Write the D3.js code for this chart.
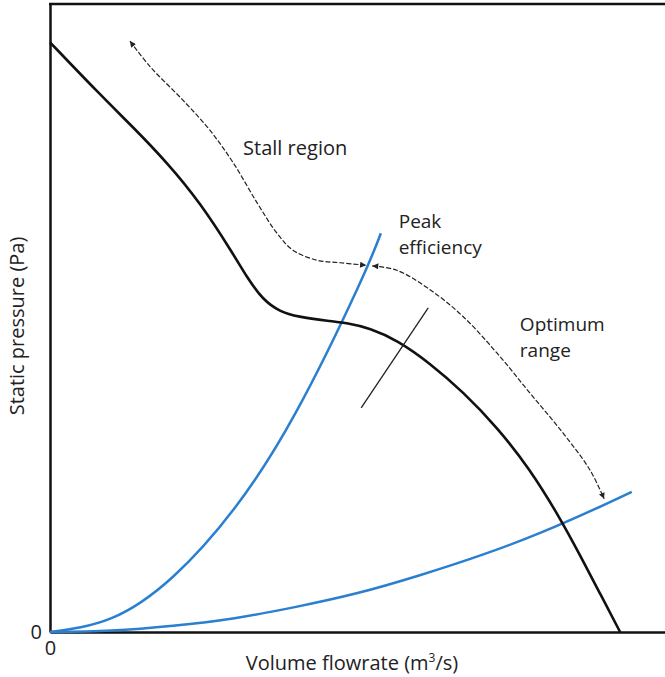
<!DOCTYPE html>
<html><head><meta charset="utf-8">
<script src="https://cdn.jsdelivr.net/npm/d3@7"></script>
<style>body{margin:0;background:#fff}text{font-family:"Open Sans",sans-serif;fill:#222}</style>
</head><body><svg id="c" width="665" height="677"></svg>
<script>
// Fan curve (Q, P) in arbitrary units
const fanQ = [0, 0.81, 1.35, 1.90, 2.44, 2.98, 3.20, 3.46, 3.74, 4.02, 4.55, 4.83, 5.20, 5.64, 6.18, 6.72, 7.27, 7.80, 8.29, 8.62, 8.94, 9.27];
const fanP = [9.39, 8.56, 8.04, 7.48, 6.84, 6.02, 5.65, 5.29, 5.10, 5.02, 4.95, 4.92, 4.84, 4.65, 4.28, 3.82, 3.26, 2.60, 1.82, 1.22, 0.62, 0];
// System curve A (steep)
const sysAQ = [0, 1, 2, 3, 4, 5, 5.38];
const sysAP = [0, 0.22, 0.88, 1.97, 3.50, 5.47, 6.35];
// System curve B (shallow)
const sysBQ = [0, 1, 2, 3, 4, 5, 6, 7, 8, 9, 9.46];
const sysBP = [0, 0.025, 0.10, 0.22, 0.40, 0.62, 0.90, 1.22, 1.59, 2.02, 2.23];
// Annotation paths
const stallQ = [1.30, 1.63, 2.16, 2.60, 2.98, 3.37, 3.69, 3.95, 4.34, 4.72, 5.14];
const stallP = [9.41, 9.00, 8.47, 7.99, 7.47, 6.83, 6.35, 6.08, 5.92, 5.88, 5.84];
const optQ = [5.24, 5.64, 6.18, 6.72, 7.27, 7.80, 8.34, 8.78, 9.01];
const optP = [5.83, 5.76, 5.45, 5.02, 4.44, 3.81, 3.17, 2.58, 2.12];
const effQ = [5.06, 6.15];
const effP = [3.57, 5.16];
const xTicks = [0], yTicks = [0];

const svg = d3.select("#c");
const x = d3.scaleLinear().domain([0, 10]).range([50, 665]);
const y = d3.scaleLinear().domain([0, 10]).range([632, 4]);
const zip = (a, b) => a.map((v, i) => [v, b[i]]);
const FS = 20;

const defs = svg.append("defs");
defs.append("marker").attr("id", "ah").attr("viewBox", "0 0 10 10").attr("refX", 10).attr("refY", 5)
  .attr("markerWidth", 9).attr("markerHeight", 6).attr("markerUnits", "userSpaceOnUse")
  .attr("orient", "auto-start-reverse")
  .append("path").attr("d", "M0,0L10,5L0,10z").attr("fill", "#222");

const smooth = d3.line().x(d => x(d[0])).y(d => y(d[1])).curve(d3.curveBasis);
const nat = d3.line().x(d => x(d[0])).y(d => y(d[1])).curve(d3.curveNatural);
const cr = d3.line().x(d => x(d[0])).y(d => y(d[1])).curve(d3.curveCatmullRom.alpha(0.5));

// frame / axes
svg.append("line").attr("x1", x(0) - 1).attr("x2", x(10)).attr("y1", y(10)).attr("y2", y(10)).attr("stroke", "#111").attr("stroke-width", 2.5);
const ya = svg.append("g").attr("transform", `translate(${x(0)},0)`)
  .call(d3.axisLeft(y).tickValues(yTicks).tickSize(0).tickPadding(8).tickFormat(d3.format("d")));
ya.select(".domain").attr("stroke", "#111").attr("stroke-width", 2.5);
ya.selectAll("text").attr("font-size", FS).attr("font-family", "Open Sans").attr("fill", "#222");
const xa = svg.append("g").attr("transform", `translate(0,${y(0)})`)
  .call(d3.axisBottom(x).tickValues(xTicks).tickSize(0).tickPadding(9).tickFormat(d3.format("d")));
xa.select(".domain").attr("stroke", "#111").attr("stroke-width", 2.5);
xa.selectAll("text").attr("font-size", FS).attr("font-family", "Open Sans").attr("fill", "#222");

// curves
svg.append("path").datum(zip(sysAQ, sysAP)).attr("d", nat).attr("fill", "none").attr("stroke", "#2a7fd0").attr("stroke-width", 2.5);
svg.append("path").datum(zip(sysBQ, sysBP)).attr("d", nat).attr("fill", "none").attr("stroke", "#2a7fd0").attr("stroke-width", 2.5);
svg.append("path").datum(zip(fanQ, fanP)).attr("d", smooth).attr("fill", "none").attr("stroke", "#111").attr("stroke-width", 2.6);
svg.append("path").datum(zip(effQ, effP)).attr("d", d3.line().x(d => x(d[0])).y(d => y(d[1])))
  .attr("fill", "none").attr("stroke", "#222").attr("stroke-width", 1.3);

// dashed arrows
svg.append("path").datum(zip(stallQ, stallP)).attr("d", cr).attr("fill", "none").attr("stroke", "#222")
  .attr("stroke-width", 1.2).attr("stroke-dasharray", "5,2").attr("marker-start", "url(#ah)").attr("marker-end", "url(#ah)");
svg.append("path").datum(zip(optQ, optP)).attr("d", cr).attr("fill", "none").attr("stroke", "#222")
  .attr("stroke-width", 1.2).attr("stroke-dasharray", "5,2").attr("marker-start", "url(#ah)").attr("marker-end", "url(#ah)");

// labels (multi-line as one text element with tspans)
const lab = (lines, q, p, fs) => {
  const t = svg.append("text").attr("x", x(q)).attr("y", y(p)).attr("font-size", fs);
  lines.forEach((s, i) => t.append("tspan").attr("x", x(q)).attr("dy", i ? 26 : 0).text(s));
};
lab(["Stall region"], 3.14, 7.60, FS);
lab(["Peak", "efficiency"], 5.67, 6.43, 19);
lab(["Optimum", "range"], 7.64, 4.79, 19);

const xl = svg.append("text").attr("x", 352).attr("y", 670).attr("font-size", FS).attr("text-anchor", "middle");
xl.append("tspan").text("Volume flowrate (m");
xl.append("tspan").attr("font-size", 12).attr("dy", -8).text("3");
xl.append("tspan").attr("dy", 8).text("/s)");
svg.append("text").attr("transform", `translate(24,${(y(0) + y(10)) / 2 + 8}) rotate(-90)`)
  .attr("font-size", FS).attr("text-anchor", "middle").text("Static pressure (Pa)");
</script></body></html>
